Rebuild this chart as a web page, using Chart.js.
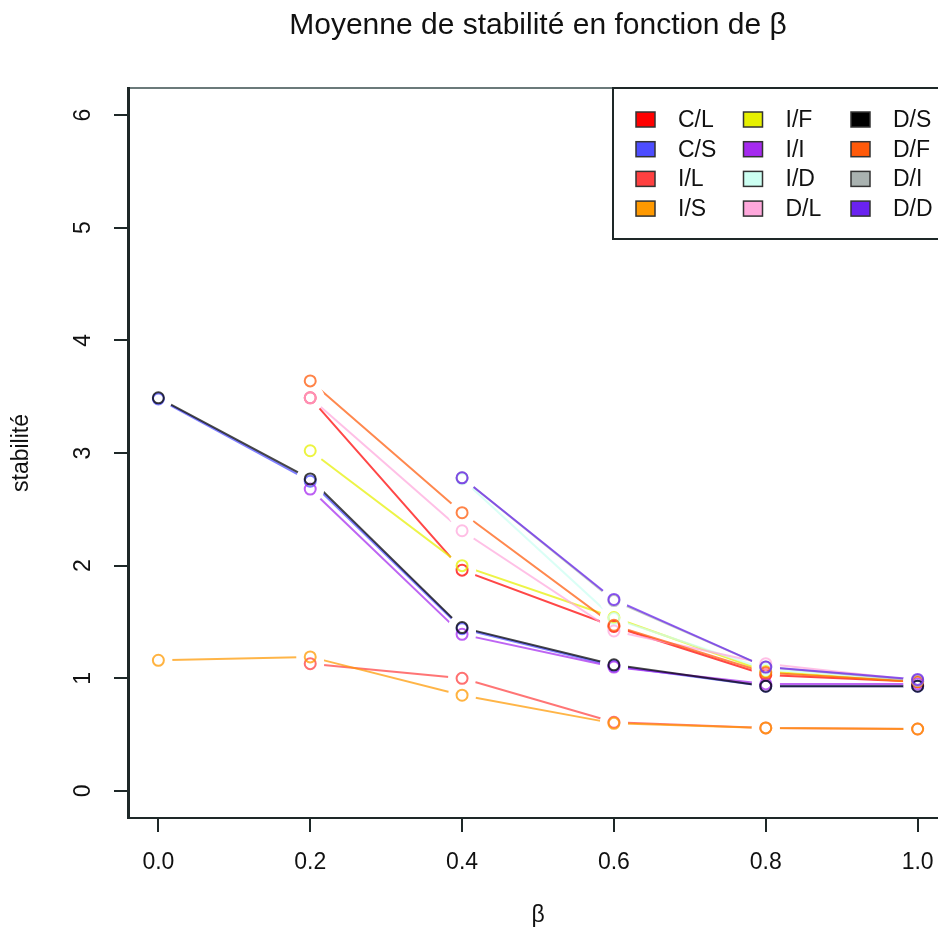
<!DOCTYPE html>
<html>
<head>
<meta charset="utf-8">
<script src="https://cdn.jsdelivr.net/npm/chart.js@4.4.1/dist/chart.umd.min.js"></script>
<style>
  html, body { margin: 0; padding: 0; background: #ffffff; overflow: hidden; }
  canvas { display: block; }
</style>
</head>
<body>
<canvas id="c" width="960" height="935"></canvas>
<script>
// β values on the horizontal axis
const betas = [0.0, 0.2, 0.4, 0.6, 0.8, 1.0];

// series names and their legend colours
const seriesNames  = ['C/L', 'C/S', 'I/L', 'I/S', 'I/F', 'I/I', 'I/D', 'D/L', 'D/S', 'D/F', 'D/I', 'D/D'];
const seriesColors = ['#FF0000', '#4D4DFF', '#FF4040', '#FF9900', '#E6F000', '#A52AEF',
                      '#CCFFF2', '#FFA8DC', '#000000', '#FF5A0A', '#A9B2B0', '#6A22F0'];

// mean stability for each series, one value per β (null = no value)
const valCL = [null, 3.49, 1.96, 1.46, 1.03, 0.97];
const valCS = [3.48, 2.75, 1.44, 1.11, 0.93, 0.93];
const valIL = [null, 1.13, 1.00, 0.61, 0.56, 0.55];
const valIS = [1.16, 1.19, 0.85, 0.60, 0.56, 0.55];
const valIF = [null, 3.02, 2.00, 1.54, 1.06, 0.97];
const valII = [null, 2.68, 1.39, 1.10, 0.95, 0.95];
const valID = [null, null, 2.77, 1.53, 1.08, 0.98];
const valDL = [null, 3.49, 2.31, 1.42, 1.13, 0.98];
const valDS = [3.49, 2.77, 1.45, 1.12, 0.93, 0.93];
const valDF = [null, 3.64, 2.47, 1.47, 1.05, 0.97];
const valDI = [null, null, 2.78, 1.69, 1.10, 0.98];
const valDD = [null, null, 2.78, 1.70, 1.10, 0.99];
const seriesValues = [valCL, valCS, valIL, valIS, valIF, valII, valID, valDL, valDS, valDF, valDI, valDD];

// tick labels
const xTicks = [0.0, 0.2, 0.4, 0.6, 0.8, 1.0];
const yTicks = [0, 1, 2, 3, 4, 5, 6];
const xTickLabels = ['0.0', '0.2', '0.4', '0.6', '0.8', '1.0'];
const yTickLabels = ['0', '1', '2', '3', '4', '5', '6'];

const FONT = '"Liberation Sans", Arial, Helvetica, sans-serif';
const INK = '#1e2828';

function tint(hex, a) {
  const n = parseInt(hex.slice(1), 16);
  return `rgba(${(n >> 16) & 255},${(n >> 8) & 255},${n & 255},${a})`;
}

function points(vals) {
  const out = [];
  vals.forEach((v, i) => { if (v !== null) out.push({ x: betas[i], y: v }); });
  return out;
}

// three layers; the first dataset is painted top-most, so the list runs:
// open circles, white gaps round each point, then the joining lines
const markSets = seriesNames.map((name, i) => ({
  label: name + ' point',
  data: points(seriesValues[i]),
  showLine: false,
  pointRadius: 5.5,
  pointHoverRadius: 5.5,
  pointBorderWidth: 2,
  pointBackgroundColor: 'rgba(255,255,255,0)',
  pointBorderColor: tint(seriesColors[i], 0.75)
})).reverse();
const gapSets = seriesNames.map((name, i) => ({
  label: name + ' gap',
  data: points(seriesValues[i]),
  showLine: false,
  pointRadius: 14,
  pointHoverRadius: 14,
  pointBorderWidth: 0,
  pointBackgroundColor: '#ffffff',
  pointBorderColor: '#ffffff'
}));
const lineSets = seriesNames.map((name, i) => ({
  label: name,
  data: points(seriesValues[i]),
  borderColor: tint(seriesColors[i], 0.72),
  borderWidth: 2,
  pointRadius: 0,
  pointHoverRadius: 0,
  showLine: true,
  fill: false,
  tension: 0
})).reverse();

const decor = {
  id: 'decor',
  beforeDraw(chart) {
    const { ctx, chartArea: a } = chart;
    ctx.save();
    ctx.fillStyle = '#ffffff';
    ctx.fillRect(0, 0, chart.width, chart.height);
    ctx.strokeStyle = '#6b7a7a';
    ctx.lineWidth = 2;
    ctx.strokeRect(a.left, a.top, a.right - a.left, a.bottom - a.top);
    ctx.restore();
  },
  afterDraw(chart) {
    const { ctx, chartArea: a, scales } = chart;
    const cx = (a.left + a.right) / 2;
    ctx.save();
    ctx.fillStyle = '#111111';

    // title
    ctx.font = `30px ${FONT}`;
    ctx.textAlign = 'center';
    ctx.textBaseline = 'middle';
    ctx.fillText('Moyenne de stabilité en fonction de β', cx, 26);

    // x tick labels
    ctx.font = `23px ${FONT}`;
    xTicks.forEach((v, i) => {
      ctx.fillText(xTickLabels[i], scales.x.getPixelForValue(v), a.bottom + 45);
    });
    // x axis title
    ctx.fillText('β', cx, a.bottom + 98);

    // y tick labels, rotated
    yTicks.forEach((v, i) => {
      ctx.save();
      ctx.translate(a.left - 44, scales.y.getPixelForValue(v));
      ctx.rotate(-Math.PI / 2);
      ctx.fillText(yTickLabels[i], 0, 0);
      ctx.restore();
    });
    // y axis title
    ctx.save();
    ctx.translate(22, (a.top + a.bottom) / 2);
    ctx.rotate(-Math.PI / 2);
    ctx.fillText('stabilité', 0, 0);
    ctx.restore();

    // legend box, three columns of four
    const boxL = a.right - 335, boxT = a.top, boxB = a.top + 151;
    ctx.fillStyle = '#ffffff';
    ctx.fillRect(boxL, boxT, a.right - boxL + 20, boxB - boxT);
    ctx.strokeStyle = INK;
    ctx.lineWidth = 2;
    ctx.strokeRect(boxL, boxT, a.right - boxL + 20, boxB - boxT);
    ctx.font = `23px ${FONT}`;
    ctx.textAlign = 'left';
    seriesNames.forEach((name, i) => {
      const col = Math.floor(i / 4), row = i % 4;
      const sx = boxL + 23 + col * 107.5;
      const sy = boxT + 31.5 + row * 29.7;
      ctx.fillStyle = seriesColors[i];
      ctx.fillRect(sx, sy - 7.5, 19, 15);
      ctx.strokeStyle = '#333333';
      ctx.lineWidth = 1.5;
      ctx.strokeRect(sx, sy - 7.5, 19, 15);
      ctx.fillStyle = '#111111';
      ctx.fillText(name, sx + 42, sy + 1);
    });
    ctx.restore();
  }
};

new Chart(document.getElementById('c'), {
  type: 'scatter',
  data: { datasets: [...markSets, ...gapSets, ...lineSets] },
  options: {
    responsive: false,
    animation: false,
    devicePixelRatio: 1,
    events: [],
    layout: { autoPadding: false, padding: { left: 128, top: 88, right: 12, bottom: 117 } },
    plugins: { legend: { display: false }, tooltip: { enabled: false }, title: { display: false } },
    scales: {
      x: {
        type: 'linear', min: -0.04, max: 1.04,
        afterBuildTicks: s => { s.ticks = xTicks.map(v => ({ value: v })); },
        afterFit: s => { s.height = 0; },
        ticks: { display: false },
        grid: { drawOnChartArea: false, drawTicks: true, tickLength: 14, color: INK, lineWidth: 2 },
        border: { display: true, color: INK, width: 2 }
      },
      y: {
        type: 'linear', min: -0.24, max: 6.24,
        afterBuildTicks: s => { s.ticks = yTicks.map(v => ({ value: v })); },
        afterFit: s => { s.width = 0; },
        ticks: { display: false },
        grid: { drawOnChartArea: false, drawTicks: true, tickLength: 14, color: INK, lineWidth: 2 },
        border: { display: true, color: INK, width: 3 }
      }
    }
  },
  plugins: [decor]
});
</script>
</body>
</html>
